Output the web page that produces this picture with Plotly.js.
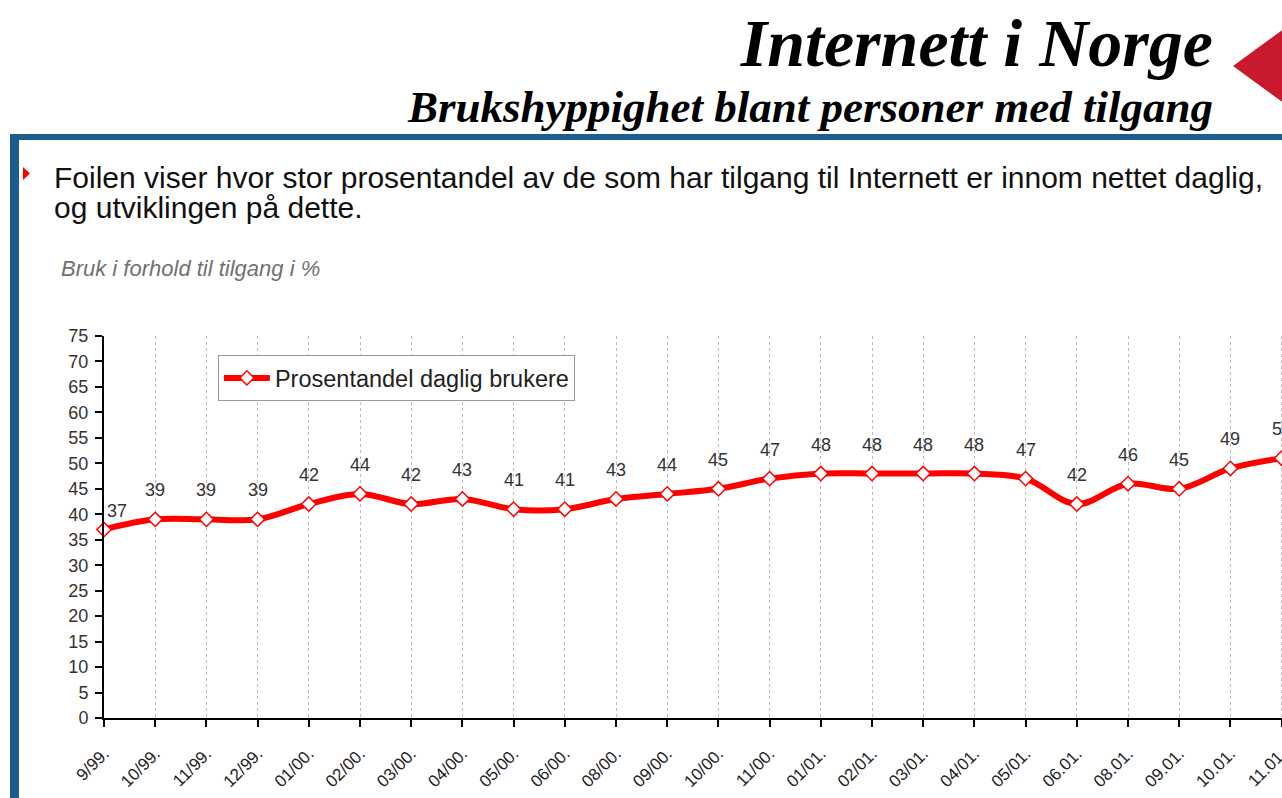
<!DOCTYPE html>
<html>
<head>
<meta charset="utf-8">
<script src="https://cdn.plot.ly/plotly-3.0.1.min.js"></script>
<style>
  html, body { margin:0; padding:0; width:1282px; height:798px; overflow:hidden; background:#fff; }
  #chart { position:absolute; left:0; top:0; width:1400px; height:798px; }
  .ov { position:absolute; pointer-events:none; white-space:nowrap; }
  .serif { font-family:"Times New Roman","Liberation Serif",serif; font-weight:bold; font-style:italic; color:#000; }
  .sans { font-family:Arial,"Liberation Sans",sans-serif; }
</style>
</head>
<body>
<div id="chart"></div>

<div class="ov serif" style="right:69px; top:9px; font-size:68px; line-height:68px;">Internett i Norge</div>
<div class="ov serif" style="right:69px; top:85px; font-size:45px; line-height:45px;">Brukshyppighet blant personer med tilgang</div>
<svg class="ov" style="left:0; top:0;" width="1282" height="798">
  <polygon points="1233,66 1300,17 1367,66 1300,115" fill="#c8192e"/>
  <rect x="10" y="134" width="1272" height="6" fill="#1d5c8e"/>
  <rect x="10" y="134" width="9" height="664" fill="#1d5c8e"/>
  <polygon points="23,167 30,173.5 23,180" fill="#ff0000"/>
</svg>
<div class="ov sans" style="left:54px; top:163px; font-size:30px; line-height:30px; color:#111;">Foilen viser hvor stor prosentandel av de som har tilgang til Internett er innom nettet daglig,<br>og utviklingen på dette.</div>
<div class="ov sans" style="left:61px; top:257px; font-size:22px; line-height:24px; font-style:italic; color:#707070;">Bruk i forhold til tilgang i %</div>

<script>
const categories = ["9/99.","10/99.","11/99.","12/99.","01/00.","02/00.","03/00.","04/00.","05/00.","06/00.","08/00.","09/00.","10/00.","11/00.","01/01.","02/01.","03/01.","04/01.","05/01.","06.01.","08.01.","09.01.","10.01.","11.01."];
const values = [37,39,39,39,42,44,42,43,41,41,43,44,45,47,48,48,48,48,47,42,46,45,49,51];
const yTickVals = [0,5,10,15,20,25,30,35,40,45,50,55,60,65,70,75];
const seriesName = "Prosentandel daglig brukere";

const font = 'Arial, "Liberation Sans", sans-serif';

const trace = {
  x: categories,
  y: values,
  type: 'scatter',
  mode: 'lines+markers',
  name: seriesName,
  line: { color: '#ff0000', width: 6, shape: 'spline', smoothing: 1 },
  marker: { symbol: 'diamond', size: 11, color: '#ffffff', line: { color: '#ff0000', width: 1.5 } },
  cliponaxis: false,
  hoverinfo: 'skip'
};

const annotations = values.map((v, i) => ({
  x: categories[i], y: v, xref: 'x', yref: 'y',
  text: String(v), showarrow: false,
  xshift: i === 0 ? 13 : 0,
  yshift: i === 0 ? 19 : 29,
  font: { family: font, size: 18, color: '#333' }
}));

const layout = {
  width: 1400, height: 798,
  margin: { l: 104, t: 336, r: 16, b: 80 },
  paper_bgcolor: 'rgba(0,0,0,0)',
  plot_bgcolor: 'rgba(0,0,0,0)',
  showlegend: true,
  legend: {
    x: 0.089, y: 0.95, xanchor: 'left', yanchor: 'top',
    bgcolor: '#ffffff', bordercolor: '#999', borderwidth: 1,
    itemwidth: 46,
    font: { family: font, size: 23.5, color: '#222' }
  },
  xaxis: {
    type: 'category',
    range: [0, 25],
    tickvals: categories,
    ticktext: categories,
    tickangle: -45,
    ticks: 'outside', ticklen: 7, tickcolor: '#000', tickwidth: 2,
    ticklabelstandoff: 10,
    showline: true, linecolor: '#000', linewidth: 2,
    showgrid: true, gridcolor: '#bbbbbb', gridwidth: 1, griddash: 'dot',
    tickfont: { family: font, size: 17, color: '#222' },
    zeroline: false, fixedrange: true
  },
  yaxis: {
    range: [0, 75],
    tickvals: yTickVals,
    ticks: 'outside', ticklen: 7, tickcolor: '#000', tickwidth: 2,
    ticklabelstandoff: 3,
    showline: true, linecolor: '#000', linewidth: 2,
    showgrid: false, zeroline: false,
    tickfont: { family: font, size: 18, color: '#333' },
    fixedrange: true
  },
  annotations: annotations
};

Plotly.newPlot('chart', [trace], layout, { displayModeBar: false, staticPlot: true });
</script>
</body>
</html>
